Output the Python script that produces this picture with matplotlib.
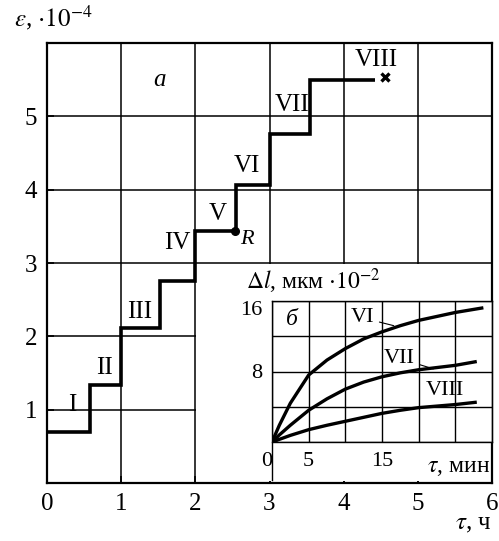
import matplotlib
matplotlib.use("Agg")
import matplotlib.pyplot as plt
from matplotlib.patches import Rectangle

plt.rcParams['font.family'] = ['Liberation Serif', 'DejaVu Serif']
plt.rcParams['mathtext.fontset'] = 'stix'

# ---- main chart data (a) ----
step_edges = [0, 0.58, 1.0, 1.52, 2.0, 2.55, 3.0, 3.54, 4.42]
step_levels = [0.70, 1.34, 2.11, 2.76, 3.44, 4.07, 4.76, 5.50]
stage_labels = ['I', 'II', 'III', 'IV', 'V', 'VI', 'VII', 'VIII']
stage_label_x = [0.34, 0.78, 1.25, 1.75, 2.30, 2.70, 3.30, 4.44]
stage_label_y = [1.06, 1.57, 2.33, 3.27, 3.67, 4.32, 5.16, 5.77]
point_R = (2.53, 3.44)
point_end = (4.56, 5.53)
main_ticks = [0, 1, 2, 3, 4, 5, 6]

# ---- inset data (б) ----
t_min = [0, 1, 2.5, 5, 7.5, 10, 12.5, 15, 17.5, 20, 25, 28.6]
dl_VI = [0, 1.9, 4.4, 7.6, 9.3, 10.6, 11.7, 12.5, 13.2, 13.8, 14.7, 15.2]
t_min2 = [0, 1, 2.5, 5, 7.5, 10, 12.5, 15, 17.5, 20, 25, 27.7]
dl_VII = [0, 0.8, 1.9, 3.6, 4.9, 6.0, 6.8, 7.4, 7.85, 8.2, 8.7, 9.1]
dl_VIII = [0, 0.3, 0.75, 1.4, 1.9, 2.35, 2.8, 3.25, 3.6, 3.9, 4.25, 4.5]
inset_xticks = [0, 5, 10, 15, 20, 25, 30]
inset_xticklabels = ['0', '5', '', '15', '', '', '']
inset_yticks = [0, 4, 8, 12, 16]
inset_yticklabels = ['', '', '8', '', '16']

W, H = 499, 541
fig = plt.figure(figsize=(W / 100, H / 100), dpi=100)

def fx(px):
    return px / W

def fy(py):
    return 1 - py / H

ax = fig.add_axes([fx(47), fy(483), fx(492) - fx(47), fy(43) - fy(483)])
ax.set_xlim(0, 6)
ax.set_ylim(0, 6)
ax.set_xticks(main_ticks)
ax.set_yticks([1, 2, 3, 4, 5])
ax.set_xticklabels([str(v) for v in main_ticks], fontsize=18)
ax.set_yticklabels(['1', '2', '3', '4', '5'], fontsize=18)
ax.tick_params(direction='in', length=5, width=1.2, pad=7)
ax.grid(True, color='black', linewidth=1.1)
for s in ax.spines.values():
    s.set_linewidth(1.6)

# white area where the inset sits
ax.add_patch(Rectangle((2.015, 0.03), 4.0, 2.955, facecolor='white',
                       edgecolor='none', zorder=1.8))

ax.stairs(step_levels, step_edges, baseline=None, color='black',
          linewidth=2.6, zorder=3)
ax.plot([point_R[0]], [point_R[1]], 'o', color='black', markersize=5.5, zorder=4)
ax.text(point_R[0] + 0.08, point_R[1] - 0.12, 'R', fontsize=16,
        style='italic', va='center', ha='left', zorder=4)
ax.plot([point_end[0]], [point_end[1]], 'x', color='black', markersize=6,
        markeredgewidth=2.4, zorder=4)
for lab, x, y in zip(stage_labels, stage_label_x, stage_label_y):
    ax.text(x, y, lab, fontsize=18, ha='center', va='center', zorder=4)
ax.text(1.52, 5.5, 'a', fontsize=18, style='italic', ha='center', va='center')

fig.text(fx(14), fy(18), r'$\varepsilon$, $\cdot 10^{-4}$', fontsize=18,
         ha='left', va='center')
fig.text(fx(492), fy(524), r'$\tau$, ч', fontsize=18, ha='right', va='center')

# ---- inset ----
ins = fig.add_axes([fx(272), fy(442), fx(492) - fx(272), fy(301) - fy(442)])
ins.set_zorder(5)
ins.set_xlim(0, 30)
ins.set_ylim(0, 16)
ins.set_xticks(inset_xticks)
ins.set_xticklabels(inset_xticklabels, fontsize=16)
ins.set_yticks(inset_yticks)
ins.set_yticklabels(inset_yticklabels, fontsize=16)
ins.tick_params(length=0, pad=7)
ins.grid(True, color='black', linewidth=1.0)
for s in ins.spines.values():
    s.set_linewidth(1.0)
ins.spines['left'].set_bounds(-4.3, 16)
ins.xaxis.get_major_ticks()[0].label1.set_horizontalalignment('right')
ins.yaxis.get_major_ticks()[-1].label1.set_verticalalignment('top')

ins.plot(t_min, dl_VI, color='black', linewidth=2.4)
ins.plot(t_min2, dl_VII, color='black', linewidth=2.4)
ins.plot(t_min2, dl_VIII, color='black', linewidth=2.4)
ins.plot([0], [0], 's', color='black', markersize=6)

ins.annotate('VI', xy=(16.6, 13.2), xytext=(12.3, 14.1), fontsize=16,
             ha='center', va='center',
             arrowprops=dict(arrowstyle='-', color='black', lw=0.8,
                             shrinkA=2, shrinkB=0))
ins.annotate('VII', xy=(22.0, 8.3), xytext=(17.3, 9.5), fontsize=16,
             ha='center', va='center',
             arrowprops=dict(arrowstyle='-', color='black', lw=0.8,
                             shrinkA=2, shrinkB=0))
ins.text(23.6, 5.8, 'VIII', fontsize=16, ha='center', va='center')
ins.text(2.7, 13.9, 'б', fontsize=17, style='italic', ha='center', va='center')

fig.text(fx(246), fy(281), r'$\Delta l$, мкм $\cdot 10^{-2}$', fontsize=17,
         ha='left', va='center', zorder=6)
fig.text(fx(490), fy(467), r'$\tau$, мин', fontsize=17, ha='right',
         va='center', zorder=6)

fig.savefig('out.png', dpi=100)
